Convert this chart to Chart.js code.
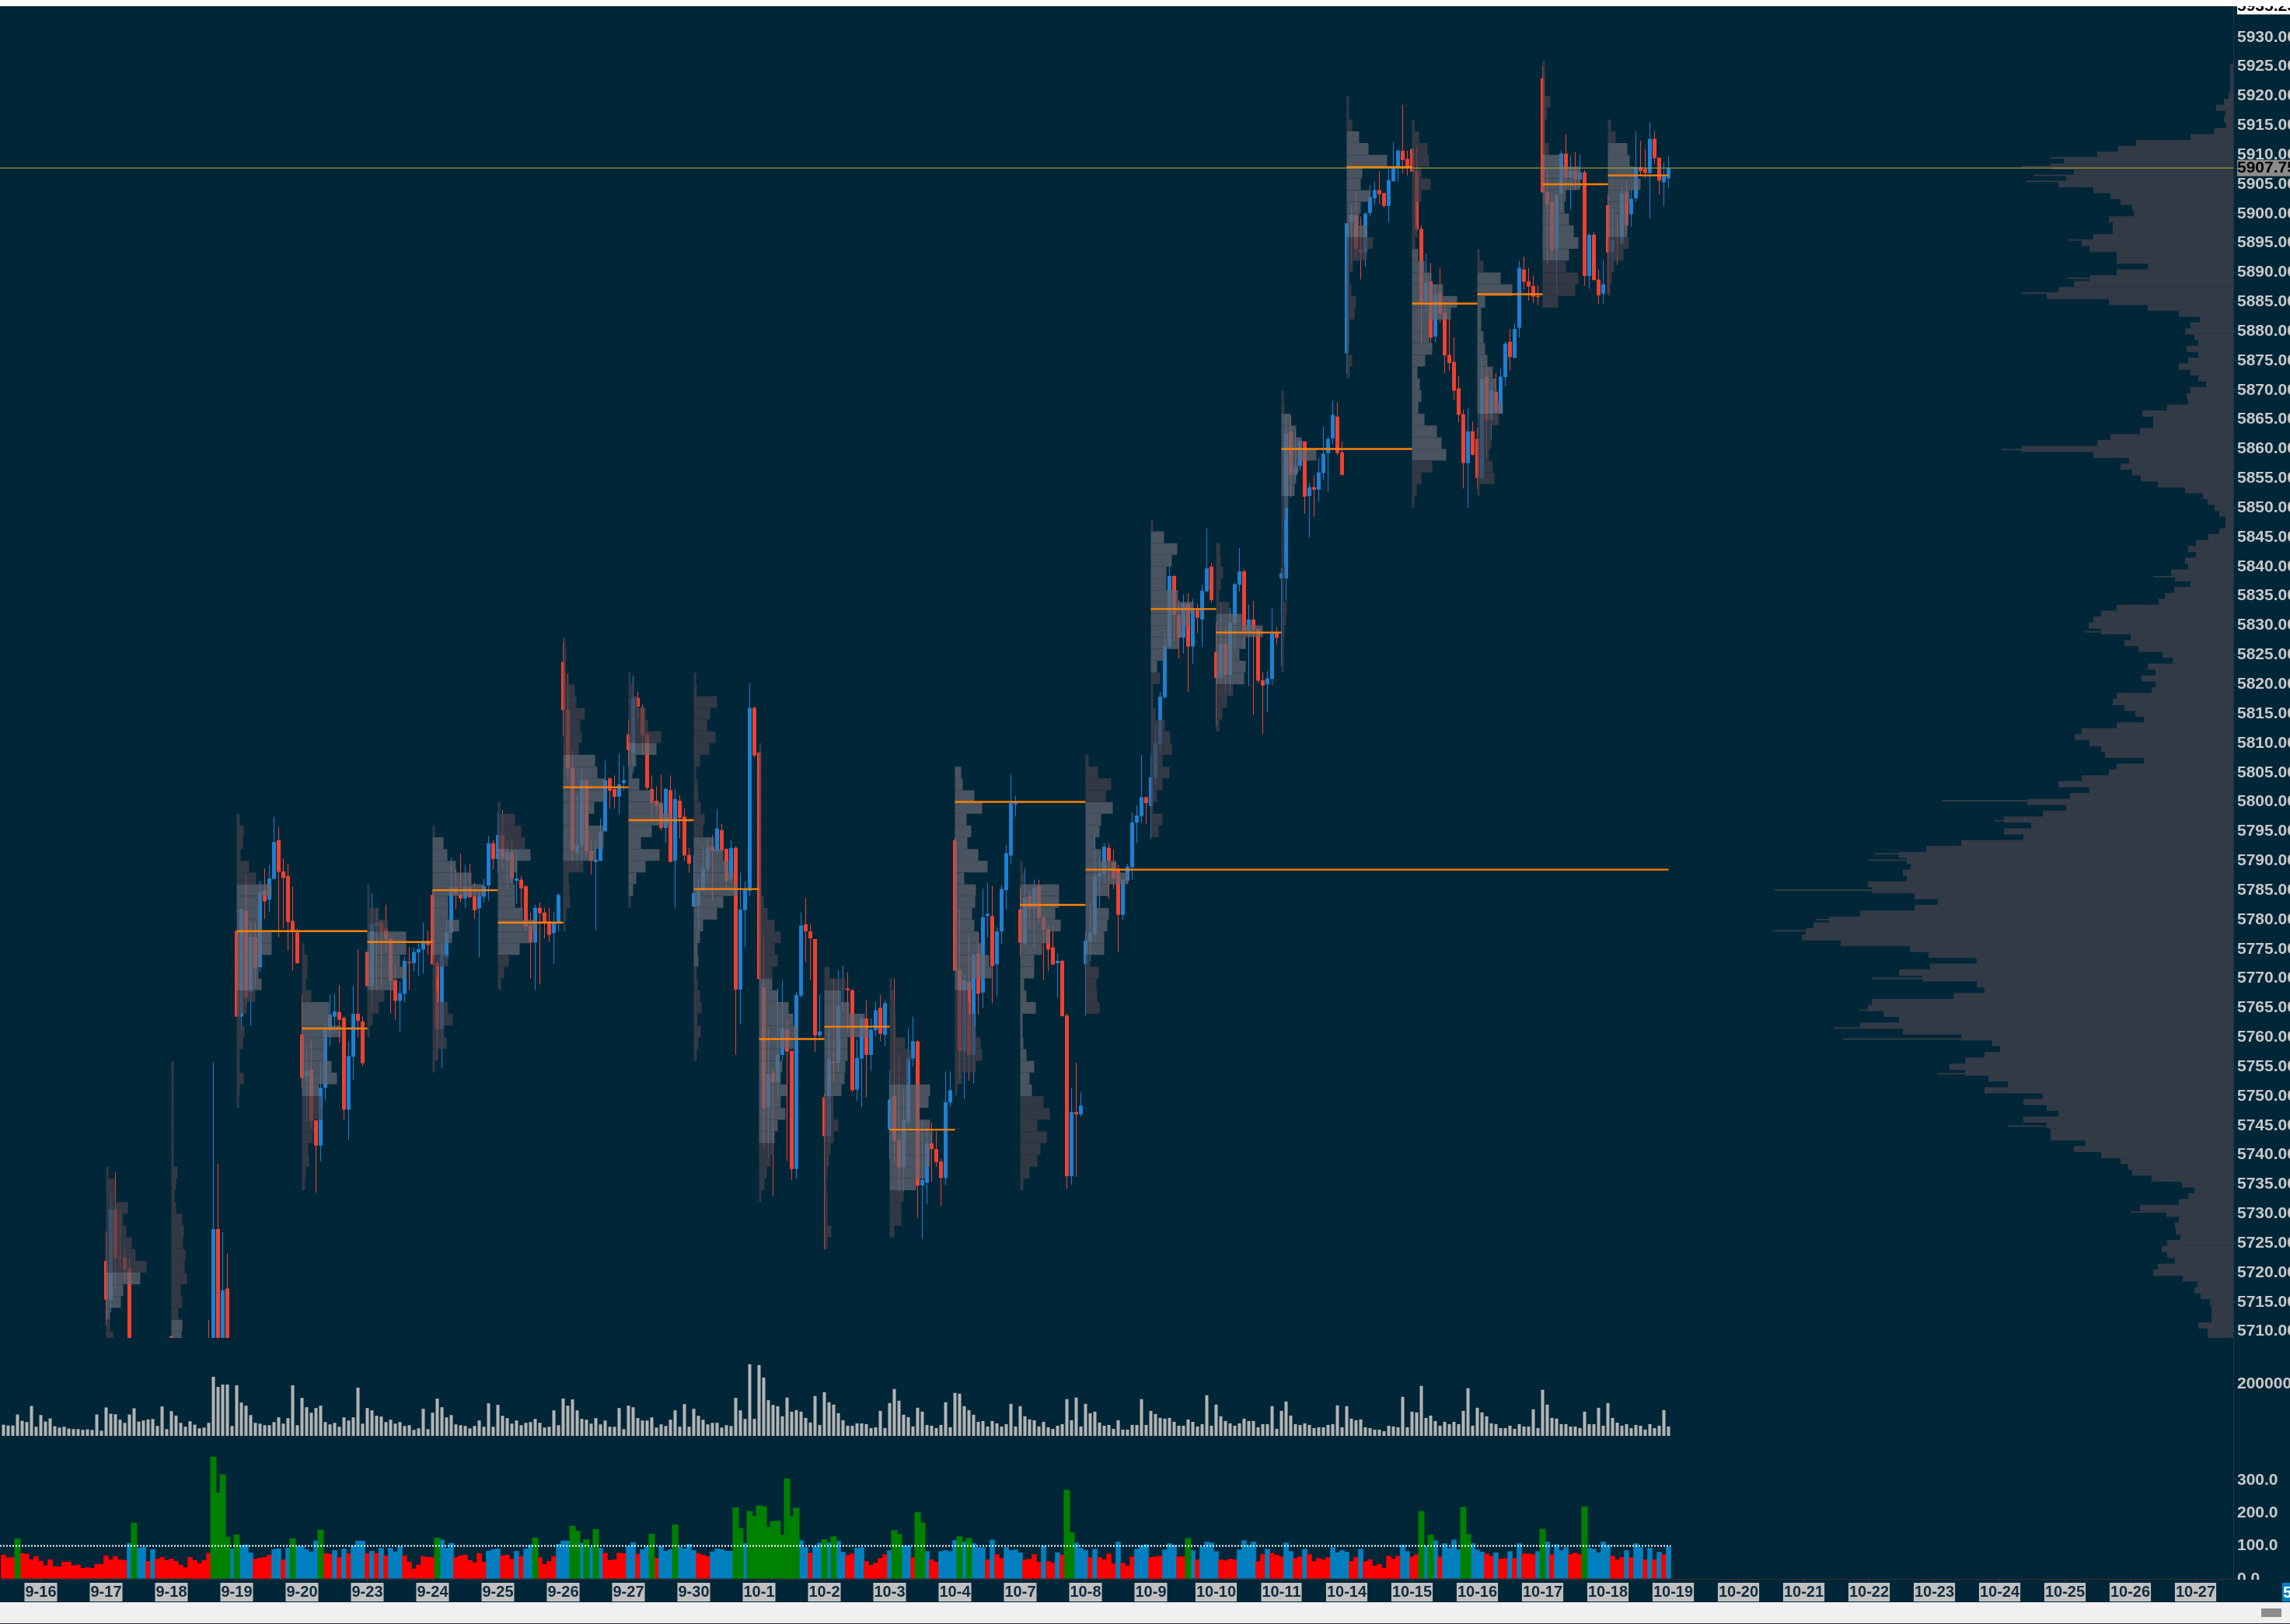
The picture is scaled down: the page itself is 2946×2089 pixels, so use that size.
<!DOCTYPE html>
<html><head><meta charset="utf-8">
<style>
html,body{margin:0;padding:0;background:#fff;width:2946px;height:2089px;overflow:hidden}
#wrap{position:absolute;left:0;top:8px;width:2946px;height:2053px;overflow:hidden;background:#002638}
canvas{display:block}
#strip{position:absolute;left:0;top:2061px;width:2946px;height:27px;background:#f0f0f0}
#edge{position:absolute;left:0;top:2088px;width:2946px;height:1px;background:#2a2440}
#thumb{position:absolute;left:2909px;top:2069px;width:26px;height:11px;background:#8c8c8c}
#corner{position:absolute;left:2936px;top:2036px;width:10px;height:24px;background:#0080c0;color:#fff;overflow:hidden;font:bold 20px "Liberation Sans";line-height:24px;padding-left:1px;box-sizing:border-box}
</style>
<script src="https://cdn.jsdelivr.net/npm/chart.js@4/dist/chart.umd.min.js"></script>
</head><body>
<div id="wrap"><canvas id="c" width="2946" height="2053"></canvas></div>
<div id="strip"></div><div id="edge"></div><div id="thumb"></div><div id="corner">5</div>
<script>
const dateLabels=['9-16','9-17','9-18','9-19','9-20','9-23','9-24','9-25','9-26','9-27','9-30','10-1','10-2','10-3','10-4','10-7','10-8','10-9','10-10','10-11','10-14','10-15','10-16','10-17','10-18','10-19','10-20','10-21','10-22','10-23','10-24','10-25','10-26','10-27'];
const priceTicks=[5930,5925,5920,5915,5910,5905,5900,5895,5890,5885,5880,5875,5870,5865,5860,5855,5850,5845,5840,5835,5830,5825,5820,5815,5810,5805,5800,5795,5790,5785,5780,5775,5770,5765,5760,5755,5750,5745,5740,5735,5730,5725,5720,5715,5710];
const topPrice=5935.25, lastPrice=5907.75;
const volumeTicks=[200];
const deltaTicks=[300,200,100,0];
const firstBar=-8;
const _=null;
const hidden22=[_,_,_,_,_,_,_,_,_,_,_,_,_,_,_,_,_,_,_,_,_,_];
const opens=[...hidden22,
5722,5715.4,5730.7,5722.5,5722.5,5720.7,_,_,_,_,_,_,_,_,
5709.2,_,_,_,_,_,_,_,5705,5700,5727.4,5705,5717.3,_,
5778.1,5763.5,5781.46,5767.7,5777,5771.9,5785,5783.4,5786.9,5793.5,5788.2,5787.4,5779.8,5777.8,
5760.5,5753.4,5754.5,5745.9,5741.6,5751.4,5761.1,5763.5,5764.3,5763.3,5747.7,5756.7,5764,5762.7,
5774.5,5768.7,5778.8,5779.5,5778.5,5776.8,5769.7,5766.2,5767.4,5772.8,5772.6,5774.4,5774.9,5776.2,
5784.2,5772.7,5761.4,5773.6,5777.8,5785.5,5784.3,5783.6,5785.5,5784,5781.9,5783.9,5785.8,5793,
5790.3,5794.4,5790,5791.5,5786.6,5786.8,5785.7,5779,5776.1,5782,5781.2,5779.7,5777.7,5779.5,
5823.8,5815.7,5805.9,5791.4,5792.6,5803.7,5791.7,5789.8,5790,5795,5804,5802.2,5800.9,5803.2,
5811.5,5808.3,5817.7,5816,5811.5,5802.2,5800.2,5799.7,5795.6,5802,5790,5800.2,5797.5,5791,
5782.2,5782.4,5784.9,5788.6,5792.4,5791.7,5795.2,5792,5786.8,5792.2,5768.1,5781.6,5784.9,5816,
5808.4,5768.5,5748,5754,5752.4,5757,5761.3,5757.7,5737.6,5767.1,5779.2,5778,5776.7,5760.3,
5749.8,5743.2,5755.9,5755.6,5768.2,5768.3,5768,5751.1,5756.4,5763.2,5757,5761.2,5765,5760.4,
5744.3,5750,5742.5,5737.9,5745.7,5756.4,5759.3,5734.8,5735.3,5742,5741,5738.9,5736.1,5748.9,
5793.5,5771.5,5757.6,5769.4,5757,5774.2,5767.6,5780.6,5780.6,5772.4,5778,5785,5790.9,5799.6,
5781.7,5775.9,5784,5781.9,5785.7,5780.3,5778.4,5775.3,5772.6,5773,5763.7,5736.4,5747.3,5746.9,
5772.4,5776.3,5777.5,5787.3,5787.8,5792.2,5789.6,5788.7,5780.8,5786.6,5788.9,5796.5,5797.6,5800.8,
5799.3,5804,5809.8,5817.8,5826.4,5838.4,5831.7,5827.9,5833.7,5826.4,5832.6,5831,5835.8,5840,
5825.5,5821.1,5826.9,5821.6,5830.4,5836.9,5839.2,5829,5831,5829.4,5820.7,5820,5820.9,5828.7,
5838,5838,5863,5855.6,5857.1,5861.3,5852,5853.5,5853.1,5855.9,5859.3,5861.8,5865.5,5859.4,
5876.3,5898.5,5899.7,5893.9,5893.4,5900.1,5902.6,5904,5903.5,5901.3,5905.5,5907.9,5910.7,5909.3,
5911,5907.2,5897.4,5885,5888.5,5879.1,5886.6,5883.2,5876,5874.8,5870.3,5865.9,5857.6,5863,
5861.7,5855.1,5872.3,5864.9,5869.7,5866,5872.2,5878.2,5875.5,5880.6,5890.5,5888.5,5887.7,5886,
5923,5903.7,5902,5894,5903.4,5910.2,5906.1,5907.3,5905.8,5907,5889.4,5896.4,5888.8,5886.4,
5901.4,5893.4,5895.2,5894.9,5903.7,5899.9,5902.6,5907.9,5907.6,5906.9,5912.7,5909.5,5905.3,5906];
const highs=[...hidden22,
5727,5733.5,5737,5730.7,5724.2,5722.6,_,_,_,_,_,_,_,_,
5709.2,_,_,_,_,_,_,_,5712,5755.7,5738.5,5726.8,5723.2,_,
5778.1,5782,5787.5,5779.7,5779.6,5786.6,5788.7,5789.3,5797.5,5795.7,5790.4,5789.5,5785.6,5778.5,
5767.2,5758.5,5759.7,5745.9,5756,5762.2,5767.2,5767.4,5768.9,5763.6,5759.3,5768.8,5775,5763.5,
5774.5,5784.5,5782,5780,5782.5,5777.5,5772.2,5769.5,5773.7,5775.3,5775.3,5776,5779.5,5778.1,
5785,5773,5776,5780,5790.5,5788.5,5791.2,5789.3,5789.5,5786.3,5785,5787,5794.3,5793.5,
5798.2,5798.7,5793.4,5793.5,5791.8,5787.5,5785.7,5781.2,5782.5,5782.9,5782,5782,5781.2,5784.5,
5827.3,5821.8,5808.8,5801.2,5805.6,5804,5793.7,5793.7,5797.2,5807,5804.2,5804.5,5808.2,5806.2,
5814,5821.5,5818.7,5816.5,5811.8,5804.5,5802.7,5804.7,5802.4,5804.5,5802.2,5801.2,5798.9,5792.2,
5791,5787,5792.4,5794,5794.4,5798.8,5796.3,5792.2,5793.5,5792.5,5788,5786.5,5820.2,5816.2,
5808.4,5777,5761.6,5754.7,5768.3,5769.7,5762.7,5757.7,5767.7,5781.2,5783.7,5779.2,5776.7,5767.2,
5750.4,5761.6,5770,5771.5,5772.2,5771,5768.2,5759.6,5763.5,5766.3,5763.2,5766,5767.2,5766.3,
5754.3,5770,5756.7,5751.4,5761.5,5763.5,5759.5,5745.5,5744.2,5745.5,5744,5739.4,5754.2,5754.2,
5794,5781.7,5770.5,5777,5774.2,5777.8,5785.2,5786.2,5785.7,5778.7,5785.9,5792.7,5804.7,5801,
5785.3,5788.7,5785,5786.8,5786.8,5780.7,5779,5778.7,5774.2,5773.2,5764,5751.4,5755.7,5750.7,
5778,5782.8,5794.9,5790.4,5793,5793,5791.9,5789.3,5786.8,5789.5,5798.2,5799.4,5808,5801,
5808,5813.2,5818.7,5828.7,5840,5838.6,5834.3,5835.3,5835.5,5834.5,5833.7,5837,5846.5,5840.6,
5830.5,5833.9,5830,5833,5837.2,5843.2,5839.5,5833.5,5834.2,5829.4,5822,5822.2,5833,5829.7,
5839.7,5866,5865.5,5863,5861.4,5861.3,5854.3,5855.5,5858.5,5863.9,5862.2,5868.2,5868,5861.3,
5898.4,5901.7,5903.8,5899.5,5900.2,5904.8,5905.4,5907.2,5903.5,5907.6,5912.1,5911,5918.5,5910.7,
5911,5911.5,5898,5893.2,5891.6,5888,5890.8,5884.7,5882.4,5879,5872.5,5866.7,5867,5864.7,
5863.6,5875.4,5874.2,5871.4,5872.9,5873.7,5878.2,5880.4,5881.3,5892,5892.7,5890.8,5889.5,5887.8,
5925.1,5907.3,5903.5,5904,5910.7,5913.5,5909.8,5910.4,5910,5907.4,5896.7,5896.9,5890.5,5892.2,
5903.2,5900.9,5899.8,5904.5,5905.7,5904.2,5914,5912.4,5911,5915.5,5914,5909.5,5908.7,5909.8];
const lows=[...hidden22,
5711.1,5713.3,5717.3,5720.7,5718.5,5700,_,_,_,_,_,_,_,_,
5700,_,_,_,_,_,_,_,5700,5700,5700,5700,5700,_,
5763.5,5761.3,5765.2,5762,5768.4,5771.1,5780.1,5781.3,5786.9,5777,5778.5,5774.7,5771.4,5772.5,
5751.3,5745.6,5744.5,5733.6,5738.9,5749.2,5758.5,5760.8,5759,5746,5742.6,5752.7,5760,5755.1,
5768.7,5765,5768,5769,5774.5,5764,5763,5761,5766,5768,5771.2,5770.3,5770.8,5774,
5772.4,5756.3,5754.8,5772.5,5776.8,5781.8,5782.9,5782,5783.7,5780.1,5773.6,5782.9,5783.2,5788.5,
5787.9,5788.5,5785.1,5786.3,5782.7,5781.8,5778,5770,5768,5769,5776.8,5776.2,5772.5,5778,
5811.2,5803.9,5789.9,5788.5,5789.5,5790.4,5787.7,5778.2,5790,5795,5798.9,5798.9,5798,5802,
5806,5805,5813.8,5808,5802.1,5796.6,5797.8,5795.2,5793,5789.7,5782,5793.8,5790,5788,
5782.2,5778.4,5784.8,5787,5783.1,5791.3,5791.6,5785.4,5786.2,5757,5762.2,5775.3,5784,5807.5,
5769.9,5741,5739.5,5733,5749.5,5756,5739,5735.8,5736,5766.7,5772.8,5769.7,5757.5,5760,
5723.9,5741.7,5752.3,5754.1,5764.4,5760.9,5750.7,5749.2,5748.1,5749.8,5754.3,5760.2,5759.3,5758.5,
5739.3,5738.9,5733.6,5733.6,5745,5755.1,5729.3,5725.7,5731.6,5735.4,5738,5731.3,5734.9,5748.1,
5771.3,5752.7,5749.5,5752.6,5752.1,5763.8,5765,5777,5765.8,5766.9,5775.8,5781.7,5789.5,5797.5,
5773.9,5775.6,5778.2,5775,5779.5,5769.7,5771.2,5772.2,5766.7,5763.5,5734.3,5735,5736.3,5746.5,
5763.7,5773,5776.3,5782,5786.2,5783.5,5785.2,5774.5,5780,5786.2,5786.8,5793,5796.5,5796.3,
5793.7,5803,5808.5,5817.6,5826,5827.2,5824.4,5825.2,5818.7,5823.5,5828.7,5826.3,5835.6,5833.9,
5812.9,5820.5,5818.6,5818.2,5826,5835.8,5826.1,5819.7,5814.8,5820.2,5811.5,5815.2,5819.9,5826.7,
5823.1,5834.2,5851.8,5854.7,5856.4,5849,5845,5848.5,5851,5854.7,5852.7,5860.8,5858.9,5855.6,
5872.7,5891.6,5892.5,5888.8,5891,5899.5,5901.5,5901.7,5901,5898.5,5905.5,5905.4,5906.8,5906.5,
5907.1,5897,5877.7,5883.3,5877.5,5878.2,5881.5,5872.9,5873.2,5868.4,5864.5,5853.3,5850,5858.9,
5853.2,5854.4,5858.5,5861.4,5864.2,5866,5870.7,5873.2,5875.4,5879,5887.1,5885.2,5884.8,5884.4,
5903.6,5891.4,5892.3,5886.6,5900.6,5904,5900.6,5904,5904.3,5887.7,5887.2,5888.7,5884.7,5884.7,
5886.4,5891.7,5891.3,5894.8,5897,5897.8,5902,5906.4,5906,5899.2,5908.5,5903.2,5901.2,5904.3];
const closes=[...hidden22,
5715.4,5730.7,5722.5,5722.4,5720.6,5700,_,_,_,_,_,_,_,_,
5700,_,_,_,_,_,_,_,5700,5727.4,5705,5717,5705,_,
5763.5,5781.8,5766.76,5777,5771.8,5784.7,5783.1,5787,5793.2,5788.1,5787.1,5779.6,5778,5772.6,
5753.1,5754.3,5745.8,5741.6,5751.4,5761.3,5763.8,5764.4,5763,5747.7,5756.8,5764,5762.8,5755.6,
5768.7,5779.3,5779.5,5778,5776.6,5769.6,5766.2,5767.5,5773,5772.6,5774.5,5775,5776.1,5775.7,
5772.4,5761.4,5774,5777.8,5785.5,5784.4,5783.6,5785.6,5783.8,5781.6,5784,5785.7,5793,5790.3,
5794.4,5790.4,5791.5,5786.9,5787,5785.3,5778.8,5776.1,5782,5781.1,5779.5,5777.4,5779.5,5784.2,
5815.6,5805.7,5791.7,5792.7,5803.7,5791.6,5790,5790.2,5794.8,5803.7,5801.9,5800.9,5803,5803.7,
5808.8,5817.7,5816.2,5811.3,5802.4,5799.8,5799.4,5795.6,5802.2,5789.8,5800.5,5797.3,5790.9,5789.5,
5784.5,5785,5788.7,5792.2,5791.7,5795.5,5791.7,5786.6,5792.2,5768.1,5781.7,5785.1,5816,5807.9,
5769.9,5747.9,5753.7,5752.4,5757,5761.6,5757.6,5737.6,5767.2,5779,5778,5776.8,5760.3,5761,
5743.2,5756.3,5755.6,5765.3,5768.3,5768,5751,5756.5,5763.1,5757,5761.3,5764.6,5760.6,5765.8,
5749.4,5742.4,5737.9,5746,5756.5,5759.3,5734.8,5735.8,5742,5741,5738.8,5736.1,5749,5751,
5771.3,5757.6,5769.7,5757,5774,5767.4,5780.4,5781,5772.1,5778,5785.2,5791.3,5799.8,5799.9,
5776.1,5783.7,5781.9,5785.4,5780.2,5778.3,5774.9,5772.4,5773,5763.6,5736.4,5747.3,5746.9,5748.4,
5776.4,5777.8,5787.4,5788,5792.4,5790,5786.9,5780.8,5786.8,5789,5796.5,5797.7,5800.8,5799.8,
5804.2,5810,5817.9,5826.5,5838.4,5831.8,5827.9,5833.7,5826.4,5832.7,5831.3,5835.9,5839.7,5834.3,
5821.1,5826.9,5821.6,5830.5,5837,5839.2,5829,5831,5829.3,5820.6,5819.8,5821,5828.7,5827.9,
5838.9,5862.7,5855.6,5856.9,5861.4,5851.9,5853.5,5853.1,5856,5859.2,5861.7,5865.8,5859.3,5855.6,
5898.4,5899.8,5894,5893.4,5900,5902.8,5904,5903.3,5901.3,5905.7,5907.8,5910.7,5909.1,5908,
5907.1,5897.3,5884.7,5888.2,5878.9,5886.2,5883,5875.9,5874.6,5869.9,5865.8,5857.6,5863,5859,
5855.1,5872,5864.9,5870,5866.2,5872.3,5877.9,5875.6,5880.4,5890.8,5888.4,5887.6,5885.9,5885.8,
5903.6,5901.6,5893.8,5903.2,5910.2,5906.1,5907.3,5905.8,5907,5889.4,5896.4,5888.7,5886.1,5888,
5893.4,5895.5,5895.1,5903.5,5898,5902.5,5907.9,5907.2,5906.9,5912.7,5909.4,5905.6,5906.3,5907.75];
const volumesK=[43,40,40,82,58,53,115,35,80,55,67,37,32,35,28,26,26,23,25,23,82,20,109,85,83,62,50,82,106,55,59,63,65,38,113,26,95,78,50,35,56,43,29,32,50,227,188,197,197,38,194,128,116,80,50,47,41,41,53,71,47,68,194,41,146,110,89,107,116,53,44,50,35,71,59,71,185,47,107,98,77,74,53,62,47,53,38,41,23,29,104,26,89,143,110,71,80,44,41,38,29,38,59,35,125,35,119,77,68,47,59,41,50,53,65,50,32,35,98,41,143,116,140,98,65,62,47,68,44,59,35,35,107,26,116,110,68,59,59,71,32,44,38,62,98,35,122,35,104,77,62,44,50,50,32,41,38,146,98,65,275,65,272,224,137,119,
114,75,147,93,99,93,69,51,153,42,168,129,120,87,60,39,39,48,48,45,30,33,96,30,126,180,135,81,72,36,108,93,42,39,30,42,129,33,165,162,114,99,81,54,57,36,57,48,36,45,123,36,114,75,63,60,36,54,33,27,39,45,141,60,147,36,123,87,93,51,39,42,27,60,24,24,42,42,141,42,96,84,69,66,69,54,39,39,63,54,36,45,156,39,120,75,57,48,39,48,66,57,57,33,45,45,114,27,96,132,78,45,42,48,42,30,33,33,42,45,117,33,114,66,60,63,33,30,24,24,18,39,36,33,150,33,93,90,192,69,78,57,39,54,45,54,45,96,183,39,108,90,75,48,45,30,30,39,27,45,36,36,102,30,177,120,69,66,45,45,36,36,30,93,45,45,108,39,126,69,51,39,45,30,42,39,24,45,30,39,99,36];
const deltaValues=[73,65,66,123,78,76,59,69,55,41,59,38,38,52,52,41,43,33,35,33,45,45,71,59,69,59,57,109,170,94,97,54,90,61,66,57,61,54,43,35,66,57,47,57,79,371,262,317,128,92,135,102,104,80,61,64,66,73,90,92,59,94,123,99,99,90,83,116,149,78,76,87,66,92,78,102,116,116,78,85,79,94,71,94,83,99,71,52,31,43,69,66,66,125,119,94,109,66,71,73,57,50,78,52,85,90,92,71,73,61,85,69,92,104,125,66,45,54,69,106,116,116,161,146,109,120,97,151,94,79,57,59,79,78,99,111,76,90,99,137,64,99,85,90,165,97,92,106,87,78,73,69,83,92,90,85,85,217,154,109,206,191,222,220,158,175,
176,134,305,190,216,117,96,79,100,110,120,110,129,115,82,73,77,94,96,54,42,49,63,75,87,148,136,101,101,66,202,171,84,59,52,84,87,84,117,129,113,124,108,96,96,59,119,75,63,96,87,89,80,59,61,75,52,101,54,49,80,73,270,141,110,94,87,66,91,66,59,77,47,113,49,40,68,91,101,105,66,68,70,89,108,103,68,68,124,87,59,98,113,110,84,59,56,61,59,89,117,103,113,54,75,91,79,73,68,110,84,63,68,91,75,54,63,59,66,96,80,87,82,54,66,91,54,59,40,45,33,70,61,70,103,84,68,75,206,98,134,117,68,108,94,119,89,218,136,108,89,82,77,70,80,61,63,84,63,108,77,77,75,84,152,113,75,105,87,96,75,79,75,220,94,91,80,113,103,70,59,66,87,66,108,96,59,94,59,82,75,98];
const deltaAverage=100;
const profileDates=['9-17','9-18','9-19','9-20','9-23','9-24','9-25','9-26','9-27','9-30','10-1','10-2','10-3','10-4','10-7','10-8','10-9','10-10','10-11','10-14','10-15','10-16','10-17','10-18'];
const profileTop=[5737,5755,5797,5775,5785,5795,5799,5827,5821,5821,5809,5771,5769,5805,5789,5807,5847,5843,5869,5919,5915,5893,5925,5915];
const profileVolumes=[
[3,11,12,28,22,26,33,38,52,44,22,19,5,5,9],
[3,3,3,3,3,3,3,3,3,8,6,4,6,14,16,15,18,17,20,12,14,9,14,13],
[4,9,8,5,16,25,45,30,29,32,45,45,30,28,32,24,13,5,10,8,4,4,9,4,3],
[3,7,7,5,12,35,38,50,30,29,38,45,22,25,26,15,14,8,9,5,4],
[3,3,15,26,50,50,42,50,34,22,15,7,3],
[3,14,19,30,50,65,20,20,34,25,16,20,6,5,6,20,26,15,18,7,3],
[3,22,30,35,42,25,20,22,22,32,50,42,28,14,8,4],
[3,4,3,4,15,17,28,22,24,20,41,44,54,54,40,33,52,52,42,26,7,8,9,4,3],
[3,7,12,22,25,42,36,10,5,14,30,44,55,30,16,40,22,10,6,3],
[3,4,30,21,17,28,20,8,3,5,6,9,14,12,26,38,45,51,56,38,30,12,8,5,6,4,5,8,10,5,9,6,4],
[3,3,3,3,3,3,3,3,3,3,3,3,3,6,11,20,28,20,24,17,17,24,38,44,50,45,27,30,28,36,28,34,24,20,19,15,10,7,3],
[7,27,22,32,52,57,30,30,27,26,22,12,12,18,12,8,6,4,3,4,4,4,9,4],
[3,5,7,8,8,20,28,24,24,52,50,38,52,55,52,52,46,34,18,15,15,6],
[8,10,25,35,15,21,16,30,42,12,27,26,22,25,30,35,44,47,22,17,18,25,27,33,35,27,9,3],
[3,5,50,50,45,52,38,28,18,18,5,8,20,3,3,4,8,18,12,15,30,38,22,34,26,22,12,4],
[4,16,33,26,35,20,18,12,20,40,55,30,14,30,28,24,24,6,17,14,15,18],
[3,17,34,27,20,20,35,55,50,40,36,18,8,12,3,3,6,18,25,27,15,24,15,8,3,15,10],
[5,6,9,6,4,17,33,60,38,30,38,36,22,14,8,4],
[3,4,12,19,26,45,22,19,17,9,5,3,4,3,3,5,3,3,7,6,4,3,3,3],
[3,3,7,16,28,52,20,18,30,18,16,26,34,26,8,4,6,12,10,4,4,3,7,4],
[3,9,20,22,12,24,12,6,6,7,4,8,16,25,40,58,50,22,22,26,17,7,10,12,8,16,32,38,44,26,12,6,3],
[3,8,30,45,10,5,5,8,10,13,20,24,25,33,28,18,18,15,20,22,3],
[3,3,3,10,6,3,3,8,24,48,48,30,28,34,40,46,34,30,46,42,20],
[4,10,25,28,35,42,28,24,26,25,27,20,8,5,3]];
const valueAreaHigh=[5720.6,5712.7,5786.6,5766.5,5777.9,5793.4,5791.1,5808.2,5809.4,5794.6,5770.6,5768.4,5752.8,5809,5785.1,5799.3,5845.6,5832,5866,5914.2,5893.4,5890.6,5909.8,5911.4];
const valueAreaLow=[5712.7,5708,5767.9,5750.4,5767.9,5774.4,5773.1,5789.1,5784.7,5771.2,5742.6,5750.2,5734.4,5768.1,5749.6,5774.3,5821.7,5820.6,5852.3,5895.7,5858.9,5866,5891.4,5896.5];
const pocPrice=[_,_,5778.05,5761.5,5776.2,5785,5779.5,5802.5,5796.9,5785.2,5759.7,5761.8,5744.3,5800,5782.5,5788.5,5832.8,5828.8,5860,5907.9,5884.7,5886.3,5905,5906.5];
const pocEndBar=[_,_,70,70,84,98,112,126,140,154,168,182,196,224,224,349,252,266,294,294,308,322,336,349];
const compositeTop=5925;
const compositeVolumes=[4,4,4,4,4,6,12,22,10,12,9,25,55,125,148,175,218,235,205,215,225,180,158,145,130,128,160,155,155,180,195,185,150,150,110,150,185,205,225,240,160,110,
70,43,55,62,50,45,60,45,58,70,55,45,35,55,60,58,85,117,103,103,120,158,175,272,180,134,145,130,119,97,62,39,33,24,18,10,10,18,32,48,58,48,62,58,80,75,55,76,88,96,150,170,180,186,170,132,140,122,91,78,110,100,118,100,105,150,155,140,126,115,150,195,204,185,170,165,115,150,160,195,225,185,210,265,215,245,295,260,295,270,350,395,430,420,415,425,420,470,465,410,380,410,480,520,540,550,555,505,416,392,330,390,430,400,330,320,360,465,470,450,430,480,425,350,310,300,320,345,365,345,315,290,320,245,270,240,225,270,240,235,235,190,205,170,145,135,130,105,66,50,58,70,120,86,70,75,74,68,85,92,85,75,97,103,65,46,50,42,30,28,28,28,45,33,33];
const compositeSpikePrices=[5908,5909.5,5906.5,5905.5,5895.5,5889,5886.5,5859.9,5838.3,5828.9,5800.2,5796.8,5792.3,5791.2,5790.1,5785,5780,5778.1,5770,5764.6,5761.6,5759.7,5753.8,5744.9,5730.3];
const compositeSpikeVolumes=[272,235,257,267,212,213,273,298,103,191,375,307,370,462,470,590,537,593,465,481,514,502,381,290,132];

const BG='#002638', BLUE='rgb(31,127,208)', RED='rgb(238,65,48)', ORANGE='#ff8000';
const PX_BAR=6, X0=52.5, AREA_RIGHT=2873;
const xMin=-X0/PX_BAR, xMax=(AREA_RIGHT-X0)/PX_BAR;
const barsOf=w=>w/PX_BAR;
const datasets=[];
const common={grouped:false,barPercentage:1,categoryPercentage:1,borderWidth:0,inflateAmount:0,xAxisID:'x'};
const idx=i=>firstBar+i;
const wickData=[],bodyData=[],bodyCols=[];
opens.forEach((o,i)=>{
  if(o===null)return;
  wickData.push({x:idx(i),y:[lows[i],highs[i]]});
  bodyData.push({x:idx(i),y:[o,closes[i]]});
  bodyCols.push(closes[i]>=o?BLUE:RED);
});
const wickCols=bodyCols.slice();
datasets.push({...common,type:'bar',yAxisID:'y',order:20,data:wickData,barThickness:1,backgroundColor:wickCols});
datasets.push({...common,type:'bar',yAxisID:'y',order:19,data:bodyData,barThickness:5,backgroundColor:bodyCols});
// session profiles
profileVolumes.forEach((levels,s)=>{
  const start=14*dateLabels.indexOf(profileDates[s]);
  const data=levels.map((v,k)=>({x:[start,start+barsOf(v)],y:profileTop[s]-2*k}));
  datasets.push({...common,type:'bar',indexAxis:'y',yAxisID:'y',order:10,barThickness:15,data,
    backgroundColor:data.map(d=>(d.y<=valueAreaHigh[s]&&d.y>=valueAreaLow[s])?'rgba(101,102,111,.73)':'rgba(68,65,74,.73)')});
  if(pocPrice[s]!==null){
    datasets.push({type:'line',xAxisID:'x',yAxisID:'y',order:3,borderColor:ORANGE,borderWidth:2.4,pointRadius:0,fill:false,tension:0,
      data:[{x:start,y:pocPrice[s]},{x:pocEndBar[s],y:pocPrice[s]}]});
  }
});
// composite profile
datasets.push({...common,type:'bar',indexAxis:'y',yAxisID:'y',order:30,barThickness:8,backgroundColor:'#323a45',
  data:compositeVolumes.map((v,k)=>({x:[xMax-barsOf(v),xMax],y:compositeTop-k}))});
datasets.push({...common,type:'bar',indexAxis:'y',yAxisID:'y',order:30,barThickness:2,backgroundColor:'#323a45',
  data:compositeSpikeVolumes.map((v,k)=>({x:[xMax-barsOf(v),xMax],y:compositeSpikePrices[k]}))});
// last price line
datasets.push({type:'line',xAxisID:'x',yAxisID:'y',order:2,borderColor:'rgba(170,155,60,.95)',borderWidth:1.4,pointRadius:0,fill:false,
  data:[{x:xMin,y:lastPrice},{x:xMax,y:lastPrice}]});
// volume
datasets.push({...common,type:'bar',yAxisID:'yVol',order:5,barThickness:4,backgroundColor:'#b4b4b4',
  data:volumesK.map((v,i)=>({x:idx(i),y:v}))});
// delta
const deltaColor=v=>v<80?'#ff0000':'#0080c0';
const lowDelta=[],highDelta=[];
deltaValues.forEach((v,i)=>{(v>=120?highDelta:lowDelta).push({x:idx(i),y:v});});
datasets.push({...common,type:'bar',yAxisID:'yDelta',order:6,barThickness:6.6,data:lowDelta,backgroundColor:lowDelta.map(d=>deltaColor(d.y))});
datasets.push({...common,type:'bar',yAxisID:'yDelta',order:5,barThickness:8,data:highDelta,backgroundColor:'#008000'});
datasets.push({type:'line',xAxisID:'x',yAxisID:'yDelta',order:1,borderColor:'#ffffff',borderWidth:2,borderDash:[2,2],pointRadius:0,fill:false,
  data:[{x:xMin,y:deltaAverage},{x:idx(deltaValues.length-1)+0.5,y:deltaAverage}]});

const tickFont={family:'"Liberation Sans"',weight:'bold',size:21,lineHeight:1};
const baseY={type:'linear',position:'right',stack:'right',offset:false,beginAtZero:false,
  border:{color:'#17384a',width:1},
  grid:{offset:false,drawOnChartArea:false,color:'#2d4350',tickLength:4,tickWidth:1}};
const isBox=v=>v===topPrice||v===lastPrice;
const fit=s=>{s.width=73;s.paddingTop=0;s.paddingBottom=0;};
new Chart(document.getElementById('c'),{
  type:'bar',
  data:{datasets},
  plugins:[{id:'clipZero',afterDraw(ch){
    const g=ch.ctx;g.save();g.fillStyle=BG;
    g.fillRect(ch.chartArea.right+1,ch.chartArea.bottom+1,73,29);
    g.restore();}}],
  options:{
    responsive:false,animation:false,devicePixelRatio:1,events:[],
    layout:{padding:0,autoPadding:false},
    plugins:{legend:{display:false},tooltip:{enabled:false},title:{display:false}},
    scales:{
      x:{type:'linear',position:'bottom',min:xMin,max:xMax,offset:false,
        border:{color:'#3a2f30',width:1},
        grid:{offset:false,drawOnChartArea:false,color:'#3a3a3a',tickLength:4},
        afterBuildTicks(s){s.ticks=dateLabels.map((d,i)=>({value:14*i}));},
        afterFit(s){s.height=30;s.paddingLeft=0;s.paddingRight=0;},
        ticks:{autoSkip:false,maxRotation:0,minRotation:0,padding:1,color:'#0f2a3c',
          font:{family:'"Liberation Sans"',weight:'bold',size:20},
          showLabelBackdrop:true,backdropColor:'#c0c0c0',backdropPadding:{x:1,y:0},
          callback:(v,i)=>dateLabels[i]}},
      y:{...baseY,stackWeight:1713,min:5935.25-1713/7.568,max:topPrice,
        afterBuildTicks(s){s.ticks=[topPrice,...priceTicks,lastPrice].map(v=>({value:v}));},
        afterFit:fit,
        ticks:{autoSkip:false,crossAlign:'near',padding:1,font:tickFont,
          color:c=>isBox(c.tick.value)?'#000':'#c8c8c8',
          showLabelBackdrop:c=>isBox(c.tick.value),
          backdropColor:c=>c.tick.value===topPrice?'#fff':'#8c8c8c',
          backdropPadding:{x:0,y:0},
          callback:v=>v.toFixed(2)}},
      yVol:{...baseY,stackWeight:126,min:0,max:126*2.985,
        afterBuildTicks(s){s.ticks=volumeTicks.map(v=>({value:v}));},
        afterFit:fit,
        ticks:{autoSkip:false,crossAlign:'near',padding:1,font:tickFont,color:'#c8c8c8',callback:v=>String(v*1000)}},
      yDelta:{...baseY,stackWeight:184,min:0,max:184/0.424,
        afterBuildTicks(s){s.ticks=deltaTicks.map(v=>({value:v}));},
        afterFit:fit,
        ticks:{autoSkip:false,crossAlign:'near',padding:1,font:tickFont,color:'#c8c8c8',callback:v=>v.toFixed(1)}}
    }
  }
});
</script>
</body></html>
